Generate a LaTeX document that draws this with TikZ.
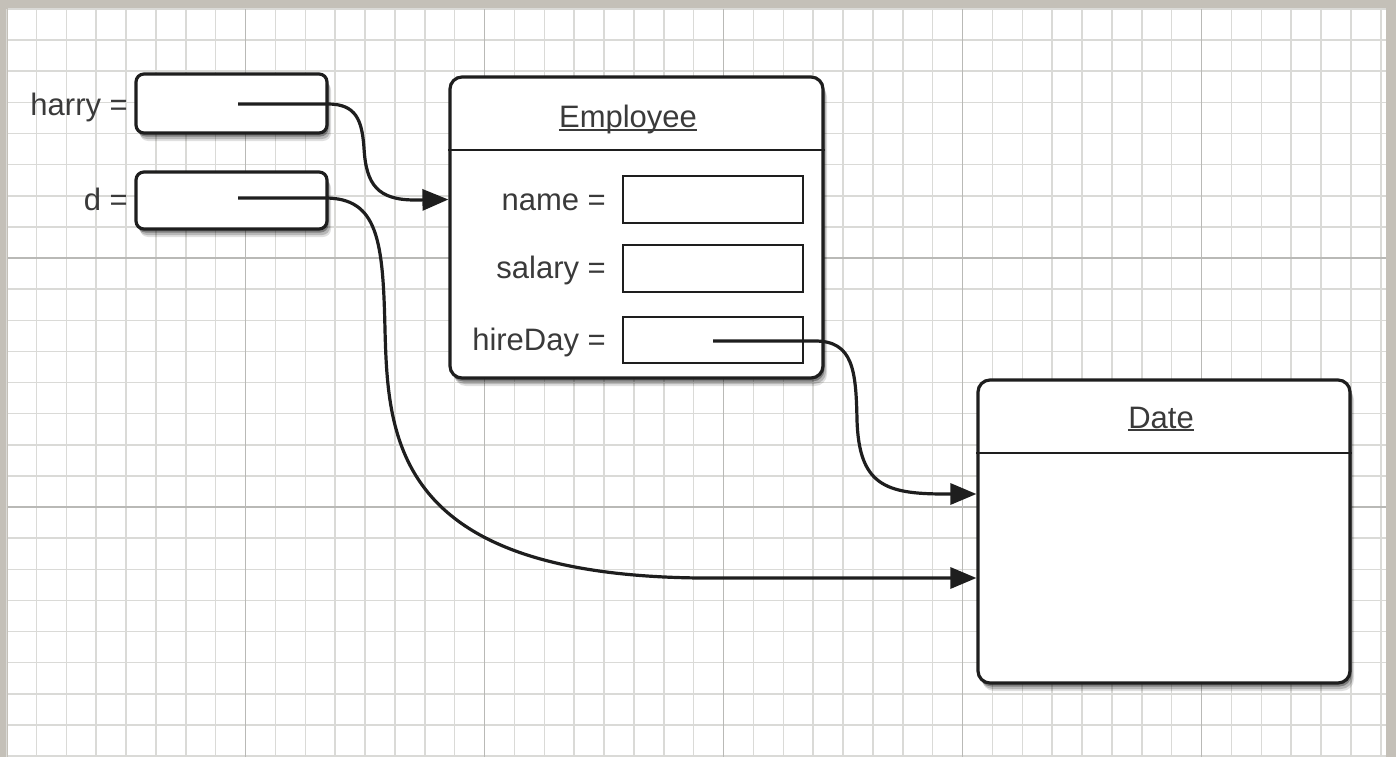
\documentclass[tikz,border=0pt]{standalone}
\usepackage{fontspec}
\setmainfont{Liberation Sans}
\usetikzlibrary{arrows.meta,shadows,calc}
\definecolor{framecol}{HTML}{C4C0B8}
\definecolor{minorgrid}{HTML}{DADAD7}
\definecolor{majorgrid}{HTML}{B9B9B6}
\definecolor{ink}{HTML}{1E1E1E}
\definecolor{txt}{HTML}{3A3A3A}
\tikzset{
  softshadow/.style={
    drop shadow={shadow xshift=4pt, shadow yshift=-8pt, opacity=0.12, fill=black},
    drop shadow={shadow xshift=3pt, shadow yshift=-6pt, opacity=0.18, fill=black},
    drop shadow={shadow xshift=1.5pt, shadow yshift=-3.5pt, opacity=0.3, fill=black}},
  objbox/.style={draw=ink, line width=3.2pt, fill=white, rounded corners=12pt, inner sep=0pt, softshadow},
  refbox/.style={objbox, rounded corners=8pt},
  fieldbox/.style={draw=ink, line width=2.6pt, fill=white, inner sep=0pt},
  lbl/.style={text=txt, font=\fontsize{31}{36}\selectfont, anchor=base east, inner sep=0pt},
  titletext/.style={text=txt, font=\fontsize{31}{36}\selectfont, anchor=base, inner sep=0pt},
  conn/.style={draw=ink, line width=3.2pt, -{Triangle[length=26pt,width=21pt]}},
}
\begin{document}
\begin{tikzpicture}[x=1pt,y=-1pt]
\useasboundingbox (0,0) rectangle (1396,757);
% paper frame and grid
\fill[framecol] (0,0) rectangle (1396,757);
\fill[white] (8,9) rectangle (1386,757);
\foreach \i in {0,...,46}
  \draw[minorgrid, line width=1.5pt] ({6.5+29.875*\i},9) -- ({6.5+29.875*\i},757);
\foreach \j in {0,...,24}
  \draw[minorgrid, line width=1.5pt] (8,{9+31.125*\j}) -- (1386,{9+31.125*\j});
\foreach \k in {1,...,5}
  \draw[majorgrid, line width=1.8pt] ({6.5+239*\k},9) -- ({6.5+239*\k},757);
\foreach \yy in {258,507}
  \draw[majorgrid, line width=1.8pt] (8,\yy) -- (1386,\yy);

% reference variables
\node[refbox, minimum width=191pt, minimum height=59pt] (harry) at (231.5,103.5) {};
\node[refbox, minimum width=191pt, minimum height=57pt] (dref) at (231.5,200.5) {};
\node[lbl] (harrylbl) at (128,115) {harry =};
\node[lbl] (dlbl) at (128,210) {d =};

% Employee object
\node[objbox, minimum width=373pt, minimum height=301pt] (emp) at (636.5,227.5) {};
\draw[ink, line width=2.6pt] (emp.west |- 0,150) -- (emp.east |- 0,150);
\node[titletext] (emptitle) at (628,128) {Employee};
\draw[txt, line width=1.5pt] ([yshift=-2pt]emptitle.base west) -- ([yshift=-2pt]emptitle.base east);
\node[fieldbox, minimum width=180pt, minimum height=47pt] (namef) at (713,199.5) {};
\node[fieldbox, minimum width=180pt, minimum height=47pt] (salf) at (713,268.5) {};
\node[fieldbox, minimum width=180pt, minimum height=46pt] (hiref) at (713,340) {};
\node[lbl] (namelbl) at (606,210) {name =};
\node[lbl] (sallbl) at (606,278) {salary =};
\node[lbl] (hirelbl) at (606,350) {hireDay =};

% Date object
\node[objbox, minimum width=372pt, minimum height=303pt] (date) at (1164,531.5) {};
\draw[ink, line width=2.6pt] (date.west |- 0,453) -- (date.east |- 0,453);
\node[titletext] (datetitle) at (1161,428) {Date};
\draw[txt, line width=1.5pt] ([yshift=-2pt]datetitle.base west) -- ([yshift=-2pt]datetitle.base east);

% connectors
\coordinate (hs) at (238,104);
\coordinate (ds) at (238,198);
\coordinate (hds) at (713,341);
\draw[conn] (hs) -- (328,104) .. controls (356,104) and (362,120) .. (364,148)
  .. controls (366,185) and (378,200) .. (415,200) -- (emp.west |- namef);
\draw[conn] (ds) -- (325,198) .. controls (378,198) and (383,240) .. (385,330)
  .. controls (388,440) and (395,575) .. (700,578) -- ($(date.west)+(0,46.5)$);
\draw[conn] (hds) -- (815,341) .. controls (853,341) and (856,370) .. (857,420)
  .. controls (859,485) and (885,494) .. (945,494) -- ($(date.west)+(0,-37.5)$);
\end{tikzpicture}
\end{document}
